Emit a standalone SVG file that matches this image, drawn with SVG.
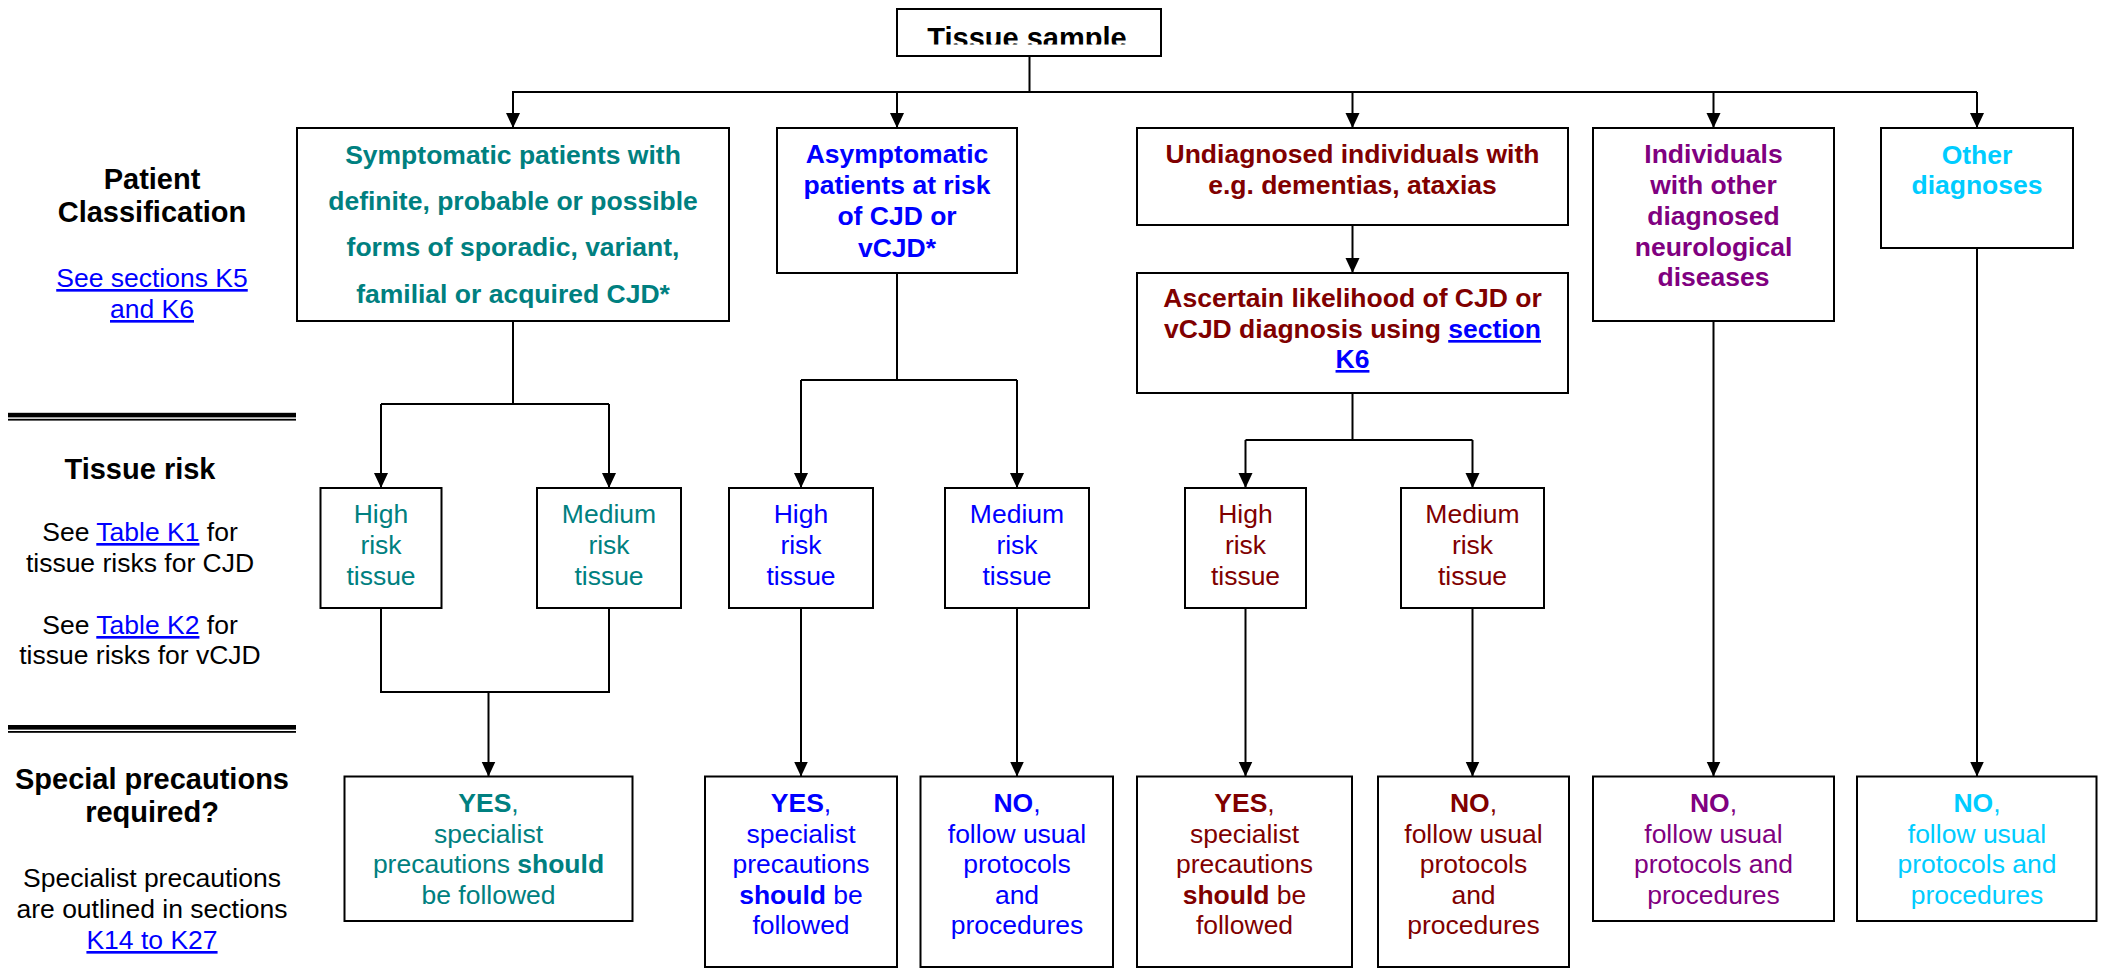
<svg xmlns="http://www.w3.org/2000/svg" width="2105" height="969" viewBox="0 0 2105 969">
<defs>
<marker id="arr" markerUnits="userSpaceOnUse" markerWidth="15" markerHeight="15" refX="15" refY="7" orient="auto"><path d="M0,0 L15,7 L0,14 Z" fill="#000"/></marker>
<clipPath id="clipTitle"><rect x="897" y="9" width="264" height="35.5"/></clipPath>
</defs>
<style>
.box{fill:#fff;stroke:#000;stroke-width:2}
.t{font-family:"Liberation Sans",Arial,Helvetica,sans-serif;font-size:26.5px;text-anchor:middle}
.b{font-weight:bold}
.h{font-family:"Liberation Sans",Arial,Helvetica,sans-serif;font-size:29px;font-weight:bold;text-anchor:middle;fill:#000}
.k{fill:#000}
.teal{fill:#008080}
.blue{fill:#0000FF}
.red{fill:#800000}
.purple{fill:#800080}
.cyan{fill:#00CCFF}
.lnk{fill:#0000FF;text-decoration:underline}
.conn{stroke:#000;stroke-width:2;fill:none}
.arw{stroke:#000;stroke-width:2;fill:none;marker-end:url(#arr)}
</style>
<rect width="2105" height="969" fill="#fff"/>

<g id="side-labels">
<text class="h" x="152" y="189">Patient</text>
<text class="h" x="152" y="222">Classification</text>
<text class="t lnk" x="152" y="287">See sections K5</text>
<text class="t lnk" x="152" y="318">and K6</text>
<rect x="8" y="412.8" width="288" height="4.6" fill="#000"/>
<rect x="8" y="418.8" width="288" height="1.8" fill="#000"/>
<text class="h" x="140" y="479">Tissue risk</text>
<text class="t k" x="140" y="541">See <tspan class="lnk">Table K1</tspan> for</text>
<text class="t k" x="140" y="572">tissue risks for CJD</text>
<text class="t k" x="140" y="634">See <tspan class="lnk">Table K2</tspan> for</text>
<text class="t k" x="140" y="664">tissue risks for vCJD</text>
<rect x="8" y="725" width="288" height="4.6" fill="#000"/>
<rect x="8" y="731" width="288" height="1.8" fill="#000"/>
<text class="h" x="152" y="789">Special precautions</text>
<text class="h" x="152" y="822">required?</text>
<text class="t k" x="152" y="887">Specialist precautions</text>
<text class="t k" x="152" y="918">are outlined in sections</text>
<text class="t lnk" x="152" y="949">K14 to K27</text>
</g>

<g id="connectors">
<path class="conn" d="M1029.5,56 V92 M512,92 H1977"/>
<path class="arw" d="M513,92 V128"/>
<path class="arw" d="M897,92 V128"/>
<path class="arw" d="M1352.5,92 V128"/>
<path class="arw" d="M1713.5,92 V128"/>
<path class="arw" d="M1977,92 V128"/>
<path class="arw" d="M1352.5,225 V273"/>
<path class="conn" d="M513,321 V404 M381,404 H609"/>
<path class="arw" d="M381,404 V488"/>
<path class="arw" d="M609,404 V488"/>
<path class="conn" d="M897,273 V380 M801,380 H1017"/>
<path class="arw" d="M801,380 V488"/>
<path class="arw" d="M1017,380 V488"/>
<path class="conn" d="M1352.5,393 V440 M1245.5,440 H1472.5"/>
<path class="arw" d="M1245.5,440 V488"/>
<path class="arw" d="M1472.5,440 V488"/>
<path class="conn" d="M381,608 V692 H609 V608"/>
<path class="arw" d="M488.5,692 V776.5"/>
<path class="arw" d="M801,608 V776.5"/>
<path class="arw" d="M1017,608 V776.5"/>
<path class="arw" d="M1245.5,608 V776.5"/>
<path class="arw" d="M1472.5,608 V776.5"/>
<path class="arw" d="M1713.5,321 V776.5"/>
<path class="arw" d="M1977,248 V776.5"/>
</g>

<g id="tissue-sample">
<rect class="box" x="897" y="9" width="264" height="47"/>
<text class="h" x="1027" y="47.5" clip-path="url(#clipTitle)">Tissue sample</text>
</g>

<g id="symptomatic">
<rect class="box" x="297" y="128" width="432" height="193"/>
<text class="t b teal" x="513" y="164">Symptomatic patients with</text>
<text class="t b teal" x="513" y="210">definite, probable or possible</text>
<text class="t b teal" x="513" y="256">forms of sporadic, variant,</text>
<text class="t b teal" x="513" y="303">familial or acquired CJD*</text>
</g>

<g id="asymptomatic">
<rect class="box" x="777" y="128" width="240" height="145"/>
<text class="t b blue" x="897" y="163">Asymptomatic</text>
<text class="t b blue" x="897" y="194">patients at risk</text>
<text class="t b blue" x="897" y="225">of CJD or</text>
<text class="t b blue" x="897" y="257">vCJD*</text>
</g>

<g id="undiagnosed">
<rect class="box" x="1137" y="128" width="431" height="97"/>
<text class="t b red" x="1352.5" y="163">Undiagnosed individuals with</text>
<text class="t b red" x="1352.5" y="194">e.g. dementias, ataxias</text>
</g>

<g id="ascertain">
<rect class="box" x="1137" y="273" width="431" height="120"/>
<text class="t b red" x="1352.5" y="307">Ascertain likelihood of CJD or</text>
<text class="t b red" x="1352.5" y="338">vCJD diagnosis using <tspan class="lnk">section</tspan></text>
<text class="t b lnk" x="1352.5" y="368">K6</text>
</g>

<g id="other-neuro">
<rect class="box" x="1593" y="128" width="241" height="193"/>
<text class="t b purple" x="1713.5" y="163">Individuals</text>
<text class="t b purple" x="1713.5" y="194">with other</text>
<text class="t b purple" x="1713.5" y="225">diagnosed</text>
<text class="t b purple" x="1713.5" y="256">neurological</text>
<text class="t b purple" x="1713.5" y="286">diseases</text>
</g>

<g id="other-diagnoses">
<rect class="box" x="1881" y="128" width="192" height="120"/>
<text class="t b cyan" x="1977" y="164">Other</text>
<text class="t b cyan" x="1977" y="194">diagnoses</text>
</g>

<g id="teal-high">
<rect class="box" x="320.5" y="488" width="121" height="120"/>
<text class="t teal" x="381" y="523">High</text>
<text class="t teal" x="381" y="554">risk</text>
<text class="t teal" x="381" y="585">tissue</text>
</g>
<g id="teal-medium">
<rect class="box" x="537" y="488" width="144" height="120"/>
<text class="t teal" x="609" y="523">Medium</text>
<text class="t teal" x="609" y="554">risk</text>
<text class="t teal" x="609" y="585">tissue</text>
</g>
<g id="blue-high">
<rect class="box" x="729" y="488" width="144" height="120"/>
<text class="t blue" x="801" y="523">High</text>
<text class="t blue" x="801" y="554">risk</text>
<text class="t blue" x="801" y="585">tissue</text>
</g>
<g id="blue-medium">
<rect class="box" x="945" y="488" width="144" height="120"/>
<text class="t blue" x="1017" y="523">Medium</text>
<text class="t blue" x="1017" y="554">risk</text>
<text class="t blue" x="1017" y="585">tissue</text>
</g>
<g id="red-high">
<rect class="box" x="1185" y="488" width="121" height="120"/>
<text class="t red" x="1245.5" y="523">High</text>
<text class="t red" x="1245.5" y="554">risk</text>
<text class="t red" x="1245.5" y="585">tissue</text>
</g>
<g id="red-medium">
<rect class="box" x="1401" y="488" width="143" height="120"/>
<text class="t red" x="1472.5" y="523">Medium</text>
<text class="t red" x="1472.5" y="554">risk</text>
<text class="t red" x="1472.5" y="585">tissue</text>
</g>

<g id="teal-yes">
<rect class="box" x="344.5" y="776.5" width="288" height="144.5"/>
<text class="t teal" x="488.5" y="812"><tspan class="b">YES</tspan>,</text>
<text class="t teal" x="488.5" y="843">specialist</text>
<text class="t teal" x="488.5" y="873">precautions <tspan class="b">should</tspan></text>
<text class="t teal" x="488.5" y="903.5">be followed</text>
</g>
<g id="blue-yes">
<rect class="box" x="705" y="776.5" width="192" height="190.5"/>
<text class="t blue" x="801" y="812"><tspan class="b">YES</tspan>,</text>
<text class="t blue" x="801" y="843">specialist</text>
<text class="t blue" x="801" y="872.5">precautions</text>
<text class="t blue" x="801" y="903.5"><tspan class="b">should</tspan> be</text>
<text class="t blue" x="801" y="934">followed</text>
</g>
<g id="blue-no">
<rect class="box" x="920.5" y="776.5" width="192.5" height="190.5"/>
<text class="t blue" x="1017" y="812"><tspan class="b">NO</tspan>,</text>
<text class="t blue" x="1017" y="843">follow usual</text>
<text class="t blue" x="1017" y="872.5">protocols</text>
<text class="t blue" x="1017" y="903.5">and</text>
<text class="t blue" x="1017" y="934">procedures</text>
</g>
<g id="red-yes">
<rect class="box" x="1137" y="776.5" width="215" height="190.5"/>
<text class="t red" x="1244.5" y="812"><tspan class="b">YES</tspan>,</text>
<text class="t red" x="1244.5" y="843">specialist</text>
<text class="t red" x="1244.5" y="872.5">precautions</text>
<text class="t red" x="1244.5" y="903.5"><tspan class="b">should</tspan> be</text>
<text class="t red" x="1244.5" y="934">followed</text>
</g>
<g id="red-no">
<rect class="box" x="1378" y="776.5" width="191" height="190.5"/>
<text class="t red" x="1473.5" y="812"><tspan class="b">NO</tspan>,</text>
<text class="t red" x="1473.5" y="843">follow usual</text>
<text class="t red" x="1473.5" y="872.5">protocols</text>
<text class="t red" x="1473.5" y="903.5">and</text>
<text class="t red" x="1473.5" y="934">procedures</text>
</g>
<g id="purple-no">
<rect class="box" x="1593" y="776.5" width="241" height="144.5"/>
<text class="t purple" x="1713.5" y="812"><tspan class="b">NO</tspan>,</text>
<text class="t purple" x="1713.5" y="843">follow usual</text>
<text class="t purple" x="1713.5" y="872.5">protocols and</text>
<text class="t purple" x="1713.5" y="903.5">procedures</text>
</g>
<g id="cyan-no">
<rect class="box" x="1857" y="776.5" width="239.5" height="144.5"/>
<text class="t cyan" x="1977" y="812"><tspan class="b">NO</tspan>,</text>
<text class="t cyan" x="1977" y="843">follow usual</text>
<text class="t cyan" x="1977" y="872.5">protocols and</text>
<text class="t cyan" x="1977" y="903.5">procedures</text>
</g>
</svg>
